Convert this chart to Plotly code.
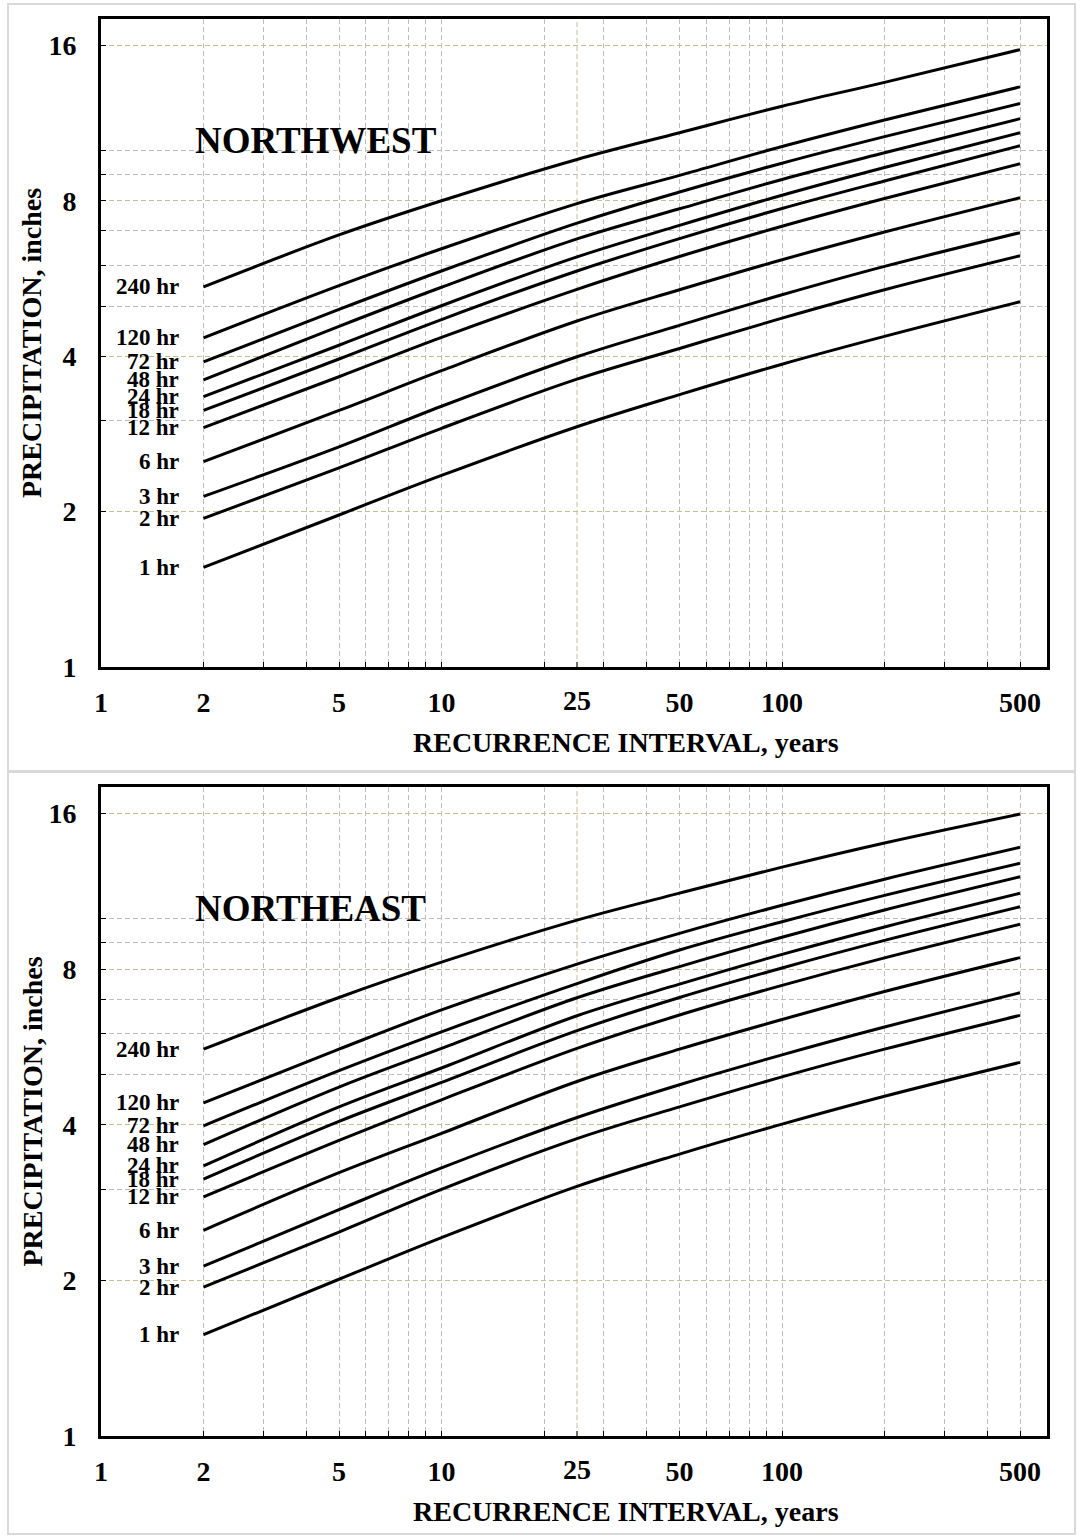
import numpy as np
import plotly.graph_objects as go

W, H = 1083, 1536
FONT = "Liberation Serif, Times New Roman, serif"
GRAY = "#bdbdbd"
TAN = "#c8bd93"
BOX = "#d9d9d9"

# ---------------- data ----------------
recurrence = [2, 5, 10, 25, 50, 100, 200, 500]
durations = ["240 hr", "120 hr", "72 hr", "48 hr", "24 hr", "18 hr",
             "12 hr", "6 hr", "3 hr", "2 hr", "1 hr"]

nw_240hr = [5.45, 6.87, 8.00, 9.62, 10.84, 12.20, 13.57, 15.70]
nw_120hr = [4.34, 5.48, 6.46, 7.90, 8.96, 10.19, 11.47, 13.30]
nw_72hr = [3.90, 4.93, 5.85, 7.24, 8.32, 9.46, 10.65, 12.35]
nw_48hr = [3.60, 4.57, 5.44, 6.75, 7.72, 8.80, 9.91, 11.54]
nw_24hr = [3.34, 4.20, 5.01, 6.23, 7.17, 8.20, 9.28, 10.84]
nw_18hr = [3.14, 3.95, 4.71, 5.85, 6.76, 7.73, 8.74, 10.23]
nw_12hr = [2.91, 3.65, 4.35, 5.39, 6.24, 7.14, 8.08, 9.44]
nw_6hr = [2.50, 3.14, 3.75, 4.68, 5.38, 6.15, 6.96, 8.11]
nw_3hr = [2.14, 2.67, 3.20, 3.99, 4.59, 5.26, 5.97, 6.94]
nw_2hr = [1.94, 2.43, 2.90, 3.61, 4.14, 4.74, 5.38, 6.26]
nw_1hr = [1.56, 1.97, 2.35, 2.92, 3.37, 3.86, 4.37, 5.10]

ne_240hr = [5.60, 7.05, 8.25, 9.95, 11.22, 12.60, 14.03, 15.96]
ne_120hr = [4.41, 5.60, 6.67, 8.18, 9.38, 10.63, 11.94, 13.76]
ne_72hr = [3.98, 5.09, 6.05, 7.50, 8.71, 9.88, 11.11, 12.82]
ne_48hr = [3.66, 4.73, 5.62, 7.04, 8.09, 9.22, 10.41, 12.07]
ne_24hr = [3.33, 4.33, 5.15, 6.50, 7.48, 8.54, 9.65, 11.21]
ne_18hr = [3.14, 4.06, 4.83, 6.08, 7.05, 8.04, 9.09, 10.56]
ne_12hr = [2.90, 3.73, 4.47, 5.62, 6.52, 7.44, 8.41, 9.77]
ne_6hr = [2.50, 3.23, 3.85, 4.85, 5.60, 6.39, 7.24, 8.42]
ne_3hr = [2.13, 2.74, 3.30, 4.13, 4.78, 5.46, 6.18, 7.20]
ne_2hr = [1.94, 2.48, 3.00, 3.76, 4.33, 4.95, 5.60, 6.51]
ne_1hr = [1.57, 2.01, 2.42, 3.04, 3.51, 4.01, 4.54, 5.28]

northwest = [nw_240hr, nw_120hr, nw_72hr, nw_48hr, nw_24hr, nw_18hr,
             nw_12hr, nw_6hr, nw_3hr, nw_2hr, nw_1hr]
northeast = [ne_240hr, ne_120hr, ne_72hr, ne_48hr, ne_24hr, ne_18hr,
             ne_12hr, ne_6hr, ne_3hr, ne_2hr, ne_1hr]

# x ticks: gray grid at these (labelled) values
x_tickvals = [1, 2, 5, 10, 50, 100, 500]
x_ticktext = ["1", "2", "5", "10", "50", "100", "500"]
x_minor = [3, 4, 6, 7, 8, 9, 20, 30, 40, 60, 70, 80, 90, 200, 300, 400]
x_tan = [25]
x_tan_text = ["25"]
y_tickvals = [1, 2, 4, 8, 16]
y_ticktext = ["1", "2", "4", "8", "16"]
y_minor = [3, 5, 6, 7, 9, 10]

panels = [
    dict(name="NORTHWEST", data=northwest, top=19, bottom=667),
    dict(name="NORTHEAST", data=northeast, top=787, bottom=1436),
]
X_LEFT, X_RIGHT = 101, 1047
X_RANGE = [1, 600]
Y_RANGE = [1, 18]
DASH = "5px,3px"


def py(p):
    return 1 - p / H


def bold(s):
    return "<b>" + s + "</b>"


fig = go.Figure()
annotations = []
shapes = []
layout = {}

for i, panel in enumerate(panels):
    sfx = "" if i == 0 else str(i + 1)
    xa, ya = "x" + sfx, "y" + sfx
    for dur, vals in zip(durations, panel["data"]):
        fig.add_trace(go.Scatter(
            x=recurrence, y=vals, xaxis=xa, yaxis=ya, mode="lines",
            line=dict(color="black", width=3, shape="spline", smoothing=1.0),
            name=dur, hoverinfo="skip"))
        annotations.append(dict(
            x=np.log10(recurrence[0]), y=np.log10(vals[0]), xref=xa, yref=ya,
            text=bold(dur), showarrow=False, xanchor="right", yanchor="middle",
            xshift=-23, font=dict(family=FONT, size=23, color="black")))

    common_ax = dict(
        showline=True, linewidth=3, linecolor="black", mirror=True,
        ticks="inside", ticklen=5, tickwidth=1, tickcolor="black",
        showgrid=True, griddash=DASH, gridwidth=1, zeroline=False,
        tickfont=dict(family=FONT, size=28, color="black"),
        tickmode="array", automargin=False,
    )
    layout["xaxis" + sfx] = dict(
        common_ax, type="log", range=[np.log10(X_RANGE[0]), np.log10(X_RANGE[1])],
        domain=[X_LEFT / W, X_RIGHT / W], anchor=ya,
        tickvals=x_tickvals, ticktext=[bold(t) for t in x_ticktext], gridcolor=GRAY,
        ticklabelstandoff=8,
        minor=dict(tickmode="array", tickvals=x_minor, ticks="inside", ticklen=5,
                   tickwidth=1, tickcolor="black", showgrid=True, gridcolor=GRAY,
                   griddash=DASH, gridwidth=1))
    layout["yaxis" + sfx] = dict(
        common_ax, type="log", range=[np.log10(Y_RANGE[0]), np.log10(Y_RANGE[1])],
        domain=[py(panel["bottom"]), py(panel["top"])], anchor=xa,
        tickvals=y_tickvals, ticktext=[bold(t) for t in y_ticktext], gridcolor=TAN,
        ticklabelstandoff=16,
        minor=dict(tickmode="array", tickvals=y_minor, ticks="inside", ticklen=5,
                   tickwidth=1, tickcolor="black", showgrid=True, gridcolor=GRAY,
                   griddash=DASH, gridwidth=1))

    plot_h = panel["bottom"] - panel["top"]
    for xv, xt in zip(x_tan, x_tan_text):
        # tan gridline, tick mark and label at 25
        shapes.append(dict(type="line", xref=xa, yref=ya + " domain", x0=xv, x1=xv,
                           y0=0, y1=1, layer="below",
                           line=dict(color=TAN, width=1, dash=DASH)))
        shapes.append(dict(type="line", xref=xa, yref=ya + " domain", x0=xv, x1=xv,
                           y0=0, y1=5 / plot_h, layer="above",
                           line=dict(color="black", width=1)))
        annotations.append(dict(
            x=np.log10(xv), y=py(panel["bottom"] + 33), xref=xa, yref="paper",
            text=bold(xt), showarrow=False, xanchor="center", yanchor="middle",
            font=dict(family=FONT, size=28, color="black")))

    # region title
    annotations.append(dict(
        x=193 / W, y=py(panel["top"] + 121), xref="paper", yref="paper",
        text=bold(panel["name"]), showarrow=False, xanchor="left", yanchor="middle",
        font=dict(family=FONT, size=37, color="black")))
    # y-axis title
    annotations.append(dict(
        x=32 / W, y=py((panel["top"] + panel["bottom"]) / 2), xref="paper", yref="paper",
        text=bold("PRECIPITATION, inches"), textangle=-90, showarrow=False,
        xanchor="center", yanchor="middle",
        font=dict(family=FONT, size=28, color="black")))
    # x-axis title
    annotations.append(dict(
        x=626 / W, y=py(panel["bottom"] + 75), xref="paper", yref="paper",
        text=bold("RECURRENCE INTERVAL, years"), showarrow=False,
        xanchor="center", yanchor="middle",
        font=dict(family=FONT, size=28, color="black")))

# panel frames
for y0, y1 in [(4, 771), (772, 1534)]:
    shapes.append(dict(type="rect", xref="paper", yref="paper",
                       x0=8 / W, x1=1075 / W, y0=py(y1), y1=py(y0),
                       line=dict(color=BOX, width=2), layer="below"))

fig.update_layout(
    width=W, height=H, autosize=False,
    margin=dict(l=0, r=0, t=0, b=0, pad=0, autoexpand=False),
    paper_bgcolor="white", plot_bgcolor="rgba(0,0,0,0)",
    showlegend=False, font=dict(family=FONT, color="black"),
    annotations=annotations, shapes=shapes, **layout)

fig.write_html(
    "out.html", config={"displayModeBar": False},
    post_script="document.body.style.margin='0';"
                "document.documentElement.style.overflow='hidden';")
